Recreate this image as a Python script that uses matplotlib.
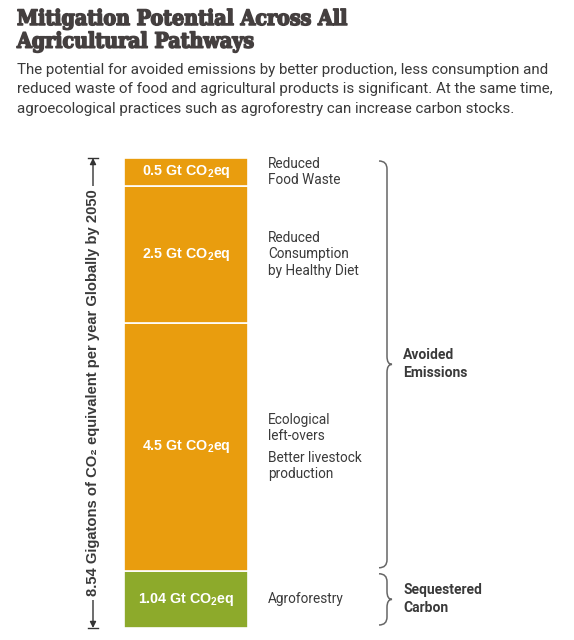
import matplotlib
matplotlib.use("Agg")
import matplotlib.pyplot as plt
from matplotlib.path import Path
from matplotlib.patches import PathPatch
import matplotlib.patheffects as pe

# data (Gt CO2eq per year), stacked bottom -> top
pathways = ["Agroforestry", "Ecological left-overs / Better livestock production",
            "Reduced Consumption by Healthy Diet", "Reduced Food Waste"]
values = [1.04, 4.5, 2.5, 0.5]
value_labels = ["1.04", "4.5", "2.5", "0.5"]
side_labels = [["Agroforestry"],
               ["Ecological\nleft-overs", "Better livestock\nproduction"],
               ["Reduced\nConsumption\nby Healthy Diet"],
               ["Reduced\nFood Waste"]]
colors = ["#8DAA2B", "#E99D0E", "#E99D0E", "#E99D0E"]
groups = [("Sequestered\nCarbon", 0, 1), ("Avoided\nEmissions", 1, 4)]
total = 8.54

TEXT = "#3a3a3a"
plt.rcParams['font.family'] = ['Roboto', 'DejaVu Sans']
plt.rcParams['mathtext.fontset'] = 'custom'
plt.rcParams['mathtext.rm'] = 'Liberation Sans:bold'
plt.rcParams['mathtext.it'] = 'Liberation Sans:bold'
plt.rcParams['mathtext.bf'] = 'Liberation Sans:bold'

fig = plt.figure(figsize=(5.74, 6.40), dpi=100)

fig.text(17 / 574, 1 - 9 / 640, "Mitigation Potential Across All\nAgricultural Pathways",
         ha="left", va="top", fontsize=15.3, fontweight="bold", color="#443f3f",
         family="DejaVu Serif", fontstretch="condensed", linespacing=1.17,
         path_effects=[pe.withStroke(linewidth=1.1, foreground="#443f3f")])
fig.text(17 / 574, 1 - 63 / 640,
         "The potential for avoided emissions by better production, less consumption and\n"
         "reduced waste of food and agricultural products is significant. At the same time,\n"
         "agroecological practices such as agroforestry can increase carbon stocks.",
         ha="left", va="top", fontsize=10.9, color=TEXT, linespacing=1.5)

# bar axes: x 0..1 = bar width, y in Gt
ax = fig.add_axes([124 / 574, 12 / 640, 124 / 574, 470 / 640])
ax.set_xlim(0, 1)
ax.set_ylim(0, total)
ax.axis("off")

px_y = total / 470.0   # Gt per pixel
px_x = 1 / 124.0       # x-unit per pixel

bottom = 0
mids = []
bounds = []
for v, lab, c in zip(values, value_labels, colors):
    ax.bar(0.5, v, width=1.0, bottom=bottom, color=c, edgecolor="white", linewidth=1.2)
    mid = bottom + v / 2
    mids.append(mid)
    bounds.append((bottom, bottom + v))
    ax.text(0.5, mid, lab + " Gt CO$_2$eq", ha="center", va="center", color="white",
            fontsize=10.3, fontweight="bold", family="Liberation Sans")
    bottom += v

# labels at the right of each segment
for mid, labs in zip(mids, side_labels):
    n = len(labs)
    for i, t in enumerate(labs):
        off = (i - (n - 1) / 2) * 38 * px_y
        ax.text(1 + 20 * px_x, mid - off, t, ha="left", va="center", color=TEXT,
                fontsize=9.8, linespacing=1.22, clip_on=False)


def brace(ax, x, y0, y1, r=8, tip=5):
    rx, ry = r * px_x, r * px_y
    tx = tip * px_x
    ym = (y0 + y1) / 2
    verts = [(x - rx, y1), (x, y1), (x, y1 - ry),
             (x, ym + ry), (x, ym), (x + tx, ym),
             (x, ym), (x, ym - ry),
             (x, y0 + ry), (x, y0), (x - rx, y0)]
    codes = [Path.MOVETO, Path.CURVE3, Path.CURVE3,
             Path.LINETO, Path.CURVE3, Path.CURVE3,
             Path.CURVE3, Path.CURVE3,
             Path.LINETO, Path.CURVE3, Path.CURVE3]
    ax.add_patch(PathPatch(Path(verts, codes), fill=False, edgecolor="#666666",
                           linewidth=1.1, clip_on=False))


bx = 1 + 139 * px_x
for name, i0, i1 in groups:
    y0 = bounds[i0][0] + 3 * px_y
    y1 = bounds[i1 - 1][1] - 3 * px_y
    brace(ax, bx, y0, y1)
    ax.text(bx + 16 * px_x, (y0 + y1) / 2, name, ha="left", va="center", color=TEXT,
            fontsize=10, fontweight="bold", linespacing=1.35, clip_on=False)

# total arrow on the left
axx = -31 * px_x
ax.annotate("", xy=(axx, total), xytext=(axx, 0),
            arrowprops=dict(arrowstyle="<|-|>", color="#333333", lw=1.0,
                            shrinkA=0, shrinkB=0, mutation_scale=9), annotation_clip=False)
for yy in (0, total):
    ax.plot([axx - 5 * px_x, axx + 5 * px_x], [yy, yy], color="#333333", lw=1.0,
            clip_on=False)
ax.text(axx, total / 2, "8.54 Gigatons of CO\u2082 equivalent per year Globally by 2050",
        rotation=90, ha="center", va="center", color=TEXT, fontsize=10.6,
        fontweight="bold", family="Liberation Sans", clip_on=False,
        bbox=dict(facecolor="white", edgecolor="none", pad=3))

fig.savefig("out.png", dpi=100)
